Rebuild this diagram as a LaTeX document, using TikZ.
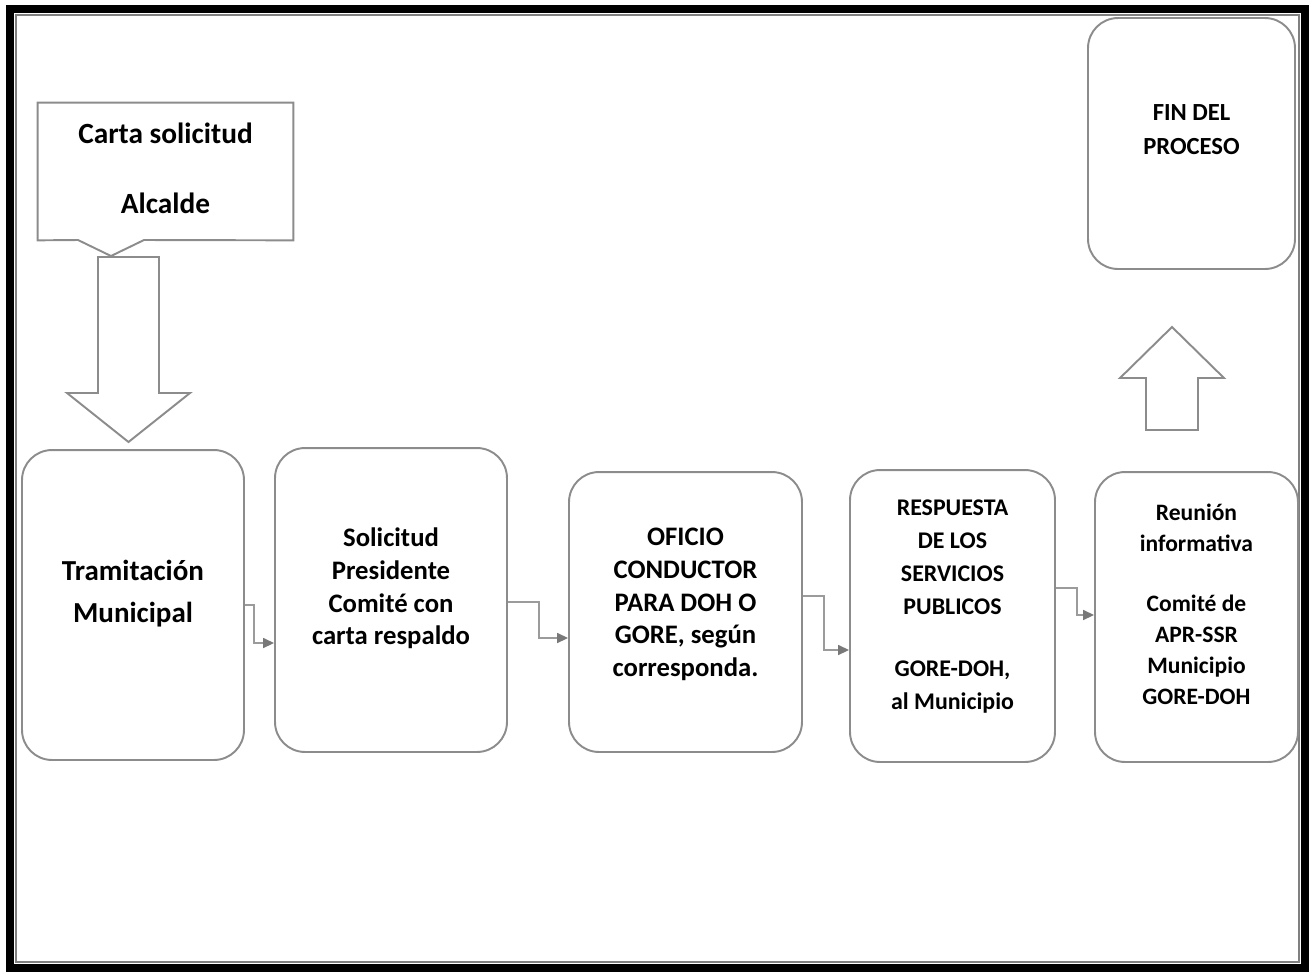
\documentclass[tikz,border=0pt]{standalone}
\usepackage{fontspec}
\setmainfont{Carlito}
\usetikzlibrary{arrows.meta}

\definecolor{boxgray}{RGB}{140,140,140}
\definecolor{conngray}{RGB}{155,155,155}
\definecolor{tipgray}{RGB}{120,120,120}

% text lines of a box, with extra depth so they sit a little above its centre
\newcommand{\liftbox}[2]{\raisebox{0pt}[\height][\dimexpr\depth+#1\relax]{\begin{tabular}{@{}c@{}}#2\end{tabular}}}

\tikzset{
  stepbox/.style={draw=boxgray, line width=1.1pt, rounded corners=0.6cm, align=center, inner sep=0pt},
  conn/.style={draw=conngray, line width=0.9pt, -{Triangle[length=0.22cm,width=0.2cm,color=tipgray]}},
  bigarrow/.style={draw=boxgray, line width=1.1pt, fill=white}
}

\begin{document}
\begin{tikzpicture}[x=0.02cm,y=-0.02cm]
	\useasboundingbox (0,0) rectangle (1316,975);

	% Frame
	\draw[line width=4.2pt] (10,9) rectangle (1305,968);
	\draw[gray, line width=0.6pt] (16,15) rectangle (1299,962);

	% Request letter
	\node[minimum width=5.1cm, minimum height=2.74cm, inner sep=0pt, align=center,
		font=\bfseries\fontsize{16.7}{20}\selectfont] (carta) at (165.5,171.5) {\liftbox{0cm}{Carta solicitud\\[0.69cm]Alcalde}};
	\draw[boxgray, line width=1.1pt] (carta.south west) -- (carta.north west) -- (carta.north east)
		-- (carta.south east) -- (144,240) -- (111,256) -- (78,240) -- cycle;
	\draw[bigarrow] (98,257) -- (159,257) -- (159,393) -- (190,393) -- (128.5,442) -- (67,393) -- (98,393) -- cycle;

	% Steps
	\node[stepbox, minimum width=4.44cm, minimum height=6.2cm, font=\bfseries\fontsize{16.5}{23.8}\selectfont]
		(tram) at (133,605) {\liftbox{0.48cm}{Tramitación\\Municipal}};
	\node[stepbox, minimum width=4.64cm, minimum height=6.08cm, font=\bfseries\fontsize{15.2}{18.7}\selectfont]
		(soli) at (391,600) {\liftbox{0.44cm}{Solicitud\\Presidente\\Comité con\\carta respaldo}};
	\node[stepbox, minimum width=4.66cm, minimum height=5.6cm, font=\bfseries\fontsize{15.2}{18.7}\selectfont]
		(ofic) at (685.5,612) {\liftbox{0.3cm}{OFICIO\\CONDUCTOR\\PARA DOH O\\GORE, según\\corresponda.}};
	\node[stepbox, minimum width=4.1cm, minimum height=5.84cm, font=\bfseries\fontsize{13.6}{18.7}\selectfont]
		(resp) at (952.5,616) {\liftbox{0.4cm}{RESPUESTA\\DE LOS\\SERVICIOS\\PUBLICOS\\[0.58cm]GORE-DOH,\\al Municipio}};
	\node[stepbox, minimum width=4.06cm, minimum height=5.8cm, font=\bfseries\fontsize{13.4}{17.6}\selectfont]
		(reun) at (1196.5,617) {\liftbox{0.42cm}{Reunión\\informativa\\[0.58cm]Comité de\\APR-SSR\\Municipio\\GORE-DOH}};

	% End
	\node[stepbox, minimum width=4.14cm, minimum height=5.02cm, font=\bfseries\fontsize{14}{19.3}\selectfont]
		(fin) at (1191.5,143.5) {\liftbox{0.52cm}{FIN DEL\\PROCESO}};
	\draw[bigarrow] (1146,430) -- (1146,378) -- (1120,378) -- (1172,327) -- (1224,378) -- (1198,378) -- (1198,430) -- cycle;

	% Connectors
	\draw[conn] (tram.east) -- (254,605) |- (soli.west |- 0,643);
	\draw[conn] (soli.east |- 0,602) -- (539,602) |- (ofic.west |- 0,638);
	\draw[conn] (ofic.east |- 0,596) -- (824,596) |- (resp.west |- 0,650);
	\draw[conn] (resp.east |- 0,588) -- (1077,588) |- (reun.west |- 0,615);
\end{tikzpicture}
\end{document}
